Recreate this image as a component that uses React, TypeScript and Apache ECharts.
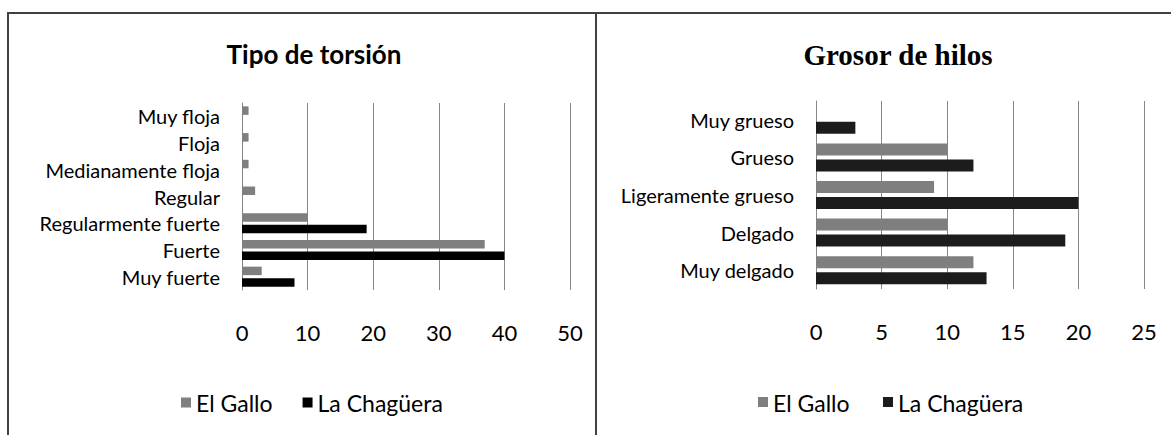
import React, { useEffect, useRef } from "react";
import * as echarts from "echarts";

// Tipo de torsión (bottom to top)
const torsionCategories = ["Muy fuerte", "Fuerte", "Regularmente fuerte", "Regular", "Medianamente floja", "Floja", "Muy floja"];
const torsionElGallo = [3, 37, 10, 2, 1, 1, 1];
const torsionChaguera = [8, 40, 19, 0, 0, 0, 0];
const torsionTicks = [0, 10, 20, 30, 40, 50];

// Grosor de hilos (bottom to top)
const grosorCategories = ["Muy delgado", "Delgado", "Ligeramente grueso", "Grueso", "Muy grueso"];
const grosorElGallo = [12, 10, 9, 10, 0];
const grosorChaguera = [13, 19, 20, 12, 3];
const grosorTicks = [0, 5, 10, 15, 20, 25];

const seriesNames = ["El Gallo", "La Chagüera"];

const SANS = "Lato";
const GRID_COLOR = "#868686";
const LEGEND_FONT = 23;

export default function App() {
  const ref = useRef<HTMLDivElement>(null);
  useEffect(() => {
    if (!ref.current) return;
    const chart = echarts.init(ref.current, undefined, { renderer: "svg" });
    const valueAxis = (gridIndex: number, ticks: number[]) => ({
      type: "value",
      gridIndex,
      min: ticks[0],
      max: ticks[ticks.length - 1],
      interval: ticks[1] - ticks[0],
      axisLine: { show: false },
      axisTick: { show: false },
      splitLine: { show: true, lineStyle: { color: GRID_COLOR, width: 1 } },
      axisLabel: { fontFamily: SANS, fontSize: 22, color: "#000", margin: 31 },
    });
    const catAxis = (gridIndex: number, data: string[]) => ({
      type: "category",
      gridIndex,
      data,
      axisLine: { show: true, lineStyle: { color: GRID_COLOR, width: 1 } },
      axisTick: { show: false },
      axisLabel: { fontFamily: SANS, fontSize: 20, color: "#000", margin: 22, interval: 0, hideOverlap: false },
    });
    chart.setOption({
      animation: false,
      backgroundColor: "#fff",
      title: [
        {
          text: "Tipo de torsión",
          left: 309,
          top: 36,
          textAlign: "center",
          textStyle: { fontFamily: SANS, fontWeight: "bold", fontSize: 26, color: "#000" },
        },
        {
          text: "Grosor de hilos",
          left: 893,
          top: 35,
          textAlign: "center",
          textStyle: { fontFamily: "Liberation Serif", fontWeight: "bold", fontSize: 29, color: "#000" },
        },
      ],
      legend: [
        {
          data: [
            { name: seriesNames[0], itemStyle: { color: "#7f7f7f" } },
            { name: seriesNames[1], itemStyle: { color: "#000" } },
          ],
          left: 176,
          top: 386,
          icon: "rect",
          itemWidth: 10,
          itemHeight: 10,
          itemGap: 30,
          textStyle: { fontFamily: SANS, fontSize: LEGEND_FONT, color: "#000" },
        },
      ],
      grid: [
        { left: 242, right: 1171 - 570, top: 103, height: 187 },
        { left: 816, right: 1171 - 1144, top: 101, height: 188 },
      ],
      xAxis: [valueAxis(0, torsionTicks), valueAxis(1, grosorTicks)],
      yAxis: [catAxis(0, torsionCategories), catAxis(1, grosorCategories)],
      series: [
        {
          type: "bar",
          name: seriesNames[0],
          xAxisIndex: 0,
          yAxisIndex: 0,
          data: torsionElGallo,
          barWidth: 8.5,
          barGap: "35%",
          itemStyle: { color: "#7f7f7f" },
        },
        {
          type: "bar",
          name: seriesNames[1],
          xAxisIndex: 0,
          yAxisIndex: 0,
          data: torsionChaguera,
          barWidth: 8.5,
          barGap: "35%",
          itemStyle: { color: "#000" },
        },
        {
          type: "bar",
          name: "g2",
          xAxisIndex: 1,
          yAxisIndex: 1,
          data: grosorElGallo,
          barWidth: 12,
          barGap: "33%",
          itemStyle: { color: "#7f7f7f" },
        },
        {
          type: "bar",
          name: "c2",
          xAxisIndex: 1,
          yAxisIndex: 1,
          data: grosorChaguera,
          barWidth: 12,
          barGap: "33%",
          itemStyle: { color: "#1c1c1c" },
        },
      ],
      graphic: [
        { type: "line", shape: { x1: 7, y1: 13, x2: 1171, y2: 13 }, style: { stroke: "#404040", lineWidth: 2 } },
        { type: "line", shape: { x1: 8, y1: 12, x2: 8, y2: 435 }, style: { stroke: "#404040", lineWidth: 2 } },
        { type: "line", shape: { x1: 596, y1: 12, x2: 596, y2: 435 }, style: { stroke: "#404040", lineWidth: 2 } },
        // legend for right panel (names shared with the left panel's series)
        {
          type: "group",
          left: 758,
          top: 391,
          children: [
            { type: "rect", shape: { x: 0, y: 6, width: 10, height: 10 }, style: { fill: "#7f7f7f" } },
            { type: "text", x: 15, y: 0, style: { text: seriesNames[0], fontFamily: SANS, fontSize: LEGEND_FONT, fill: "#000" } },
            { type: "rect", shape: { x: 125, y: 6, width: 10, height: 10 }, style: { fill: "#1c1c1c" } },
            { type: "text", x: 140, y: 0, style: { text: seriesNames[1], fontFamily: SANS, fontSize: LEGEND_FONT, fill: "#000" } },
          ],
        },
      ],
    });
    return () => chart.dispose();
  }, []);
  return (
    <div
      ref={ref}
      style={{ position: "absolute", left: 0, top: 0, width: 1171, height: 435 }}
    />
  );
}
